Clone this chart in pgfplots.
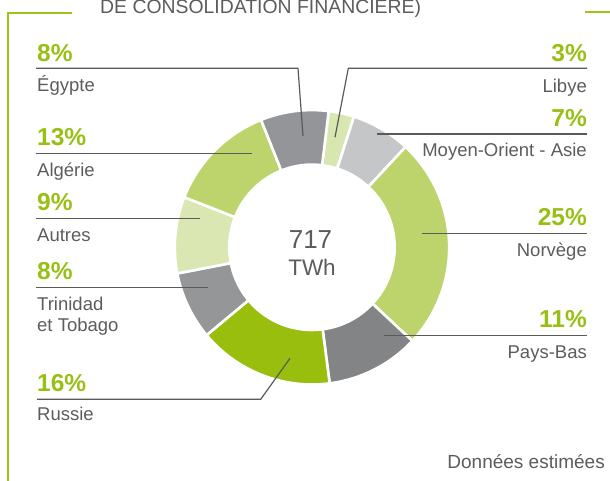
\documentclass[border=0pt]{standalone}
\usepackage{pgfplots}
\pgfplotsset{compat=1.18}
\usepackage{fontspec}
\setmainfont{Liberation Sans}
\definecolor{cEg}{HTML}{949598}
\definecolor{cLib}{HTML}{D8E6B0}
\definecolor{cMO}{HTML}{C5C6C8}
\definecolor{cNor}{HTML}{BDD36C}
\definecolor{cPB}{HTML}{838486}
\definecolor{cRus}{HTML}{99BE0E}
\definecolor{cTri}{HTML}{959698}
\definecolor{cAut}{HTML}{DAE7B3}
\definecolor{cAlg}{HTML}{BDD36C}
\definecolor{pgreen}{HTML}{98BF14}
\definecolor{frame}{HTML}{9CC41A}
\definecolor{tgrey}{HTML}{5C5C5C}
\definecolor{lgrey}{HTML}{5A5A5A}
\def\cx{312}
\def\cy{233.7}
\def\Ro{137.2}
\def\Ri{84}
\def\st{83}
% #1 cumulative share before the slice, #2 share (%), #3 colour
\newcommand\slice[3]{\addplot[fill=#3, draw=white, line width=2.6bp, domain={\st-3.6*(#1+#2)}:{\st-3.6*(#1)}, samples=40, variable=\t] ({\cx+\Ro*cos(\t)},{\cy+\Ro*sin(\t)}) -- (axis cs:\cx,\cy) -- cycle;}
\newcommand\pct[4]{\node[anchor=base #1, inner sep=0pt, text=pgreen, font=\bfseries\fontsize{24.5bp}{24.5bp}\selectfont] at (axis cs:#2,#3) {#4};}
\newcommand\nm[4]{\node[anchor=base #1, inner sep=0pt, text=tgrey, font=\fontsize{18.5bp}{21bp}\selectfont] at (axis cs:#2,#3) {#4};}
\begin{document}
\begin{tikzpicture}
\begin{axis}[at={(0,0)}, anchor=south west, scale only axis, width=610bp, height=481bp,
  xmin=0, xmax=610, ymin=0, ymax=481, hide axis, clip=false]
% donut slices (clockwise from the top)
\slice{0}{3}{cLib}
\slice{3}{7}{cMO}
\slice{10}{25}{cNor}
\slice{35}{11}{cPB}
\slice{46}{16}{cRus}
\slice{62}{8}{cTri}
\slice{70}{9}{cAut}
\slice{79}{13}{cAlg}
\slice{92}{8}{cEg}
\addplot[fill=white, draw=none, domain=0:360, samples=120, variable=\t] ({\cx+\Ri*cos(\t)},{\cy+\Ri*sin(\t)}) -- cycle;
% leader lines
\addplot[lgrey, line width=1.2bp] coordinates {(36,412.7) (298,412.7) (303,345)};
\addplot[lgrey, line width=1.2bp] coordinates {(36,327.7) (252,327.7)};
\addplot[lgrey, line width=1.2bp] coordinates {(36,262.7) (200,262.7)};
\addplot[lgrey, line width=1.2bp] coordinates {(36,193.3) (208,193.3)};
\addplot[lgrey, line width=1.2bp] coordinates {(37,81.7) (260.7,81.7) (290,122.7)};
\addplot[lgrey, line width=1.2bp] coordinates {(587,412.7) (348.3,412.7) (335,343.7)};
\addplot[lgrey, line width=1.2bp] coordinates {(587,347) (377,347)};
\addplot[lgrey, line width=1.2bp] coordinates {(587,247.7) (422,247.7)};
\addplot[lgrey, line width=1.2bp] coordinates {(587,145.3) (384,145.3)};
% frame
\addplot[frame, line width=2.2bp] coordinates {(72,468.3) (8,468.3) (8,-5)};
\addplot[frame, line width=2.2bp] coordinates {(585,468.7) (615,468.7)};
% title (cut at the top)
\node[anchor=base west, inner sep=0pt, text=tgrey, font=\fontsize{19.4bp}{20bp}\selectfont] at (axis cs:100,467.5) {DE CONSOLIDATION FINANCIÈRE)};
% labels left
\pct{west}{37}{419.3}{8\%}
\nm{west}{37}{389}{Égypte}
\pct{west}{37}{335.7}{13\%}
\nm{west}{37}{304.3}{Algérie}
\pct{west}{37}{270}{9\%}
\nm{west}{37}{239.3}{Autres}
\pct{west}{37}{201.7}{8\%}
\nm{west}{37}{170.3}{Trinidad}
\nm{west}{37}{149.3}{et Tobago}
\pct{west}{37}{89.3}{16\%}
\nm{west}{37}{60}{Russie}
% labels right
\pct{east}{587}{419.3}{3\%}
\nm{east}{587}{388.7}{Libye}
\pct{east}{587}{354.3}{7\%}
\nm{east}{587}{324.3}{Moyen-Orient - Asie}
\pct{east}{587}{255.3}{25\%}
\nm{east}{587}{224.3}{Norvège}
\pct{east}{587}{153.7}{11\%}
\nm{east}{587}{122.7}{Pays-Bas}
% centre
\node[anchor=base, inner sep=0pt, text=tgrey, font=\fontsize{26bp}{26bp}\selectfont] at (axis cs:310.5,232.7) {717};
\node[anchor=base, inner sep=0pt, text=tgrey, font=\fontsize{22.5bp}{22.5bp}\selectfont] at (axis cs:312,205) {TWh};
% note
\node[anchor=base east, inner sep=0pt, text=tgrey, font=\fontsize{19bp}{20bp}\selectfont] at (axis cs:605,12.7) {Données estimées};
\end{axis}
\pgfresetboundingbox
\useasboundingbox (0,0) rectangle (610bp,481bp);
\end{tikzpicture}
\end{document}
